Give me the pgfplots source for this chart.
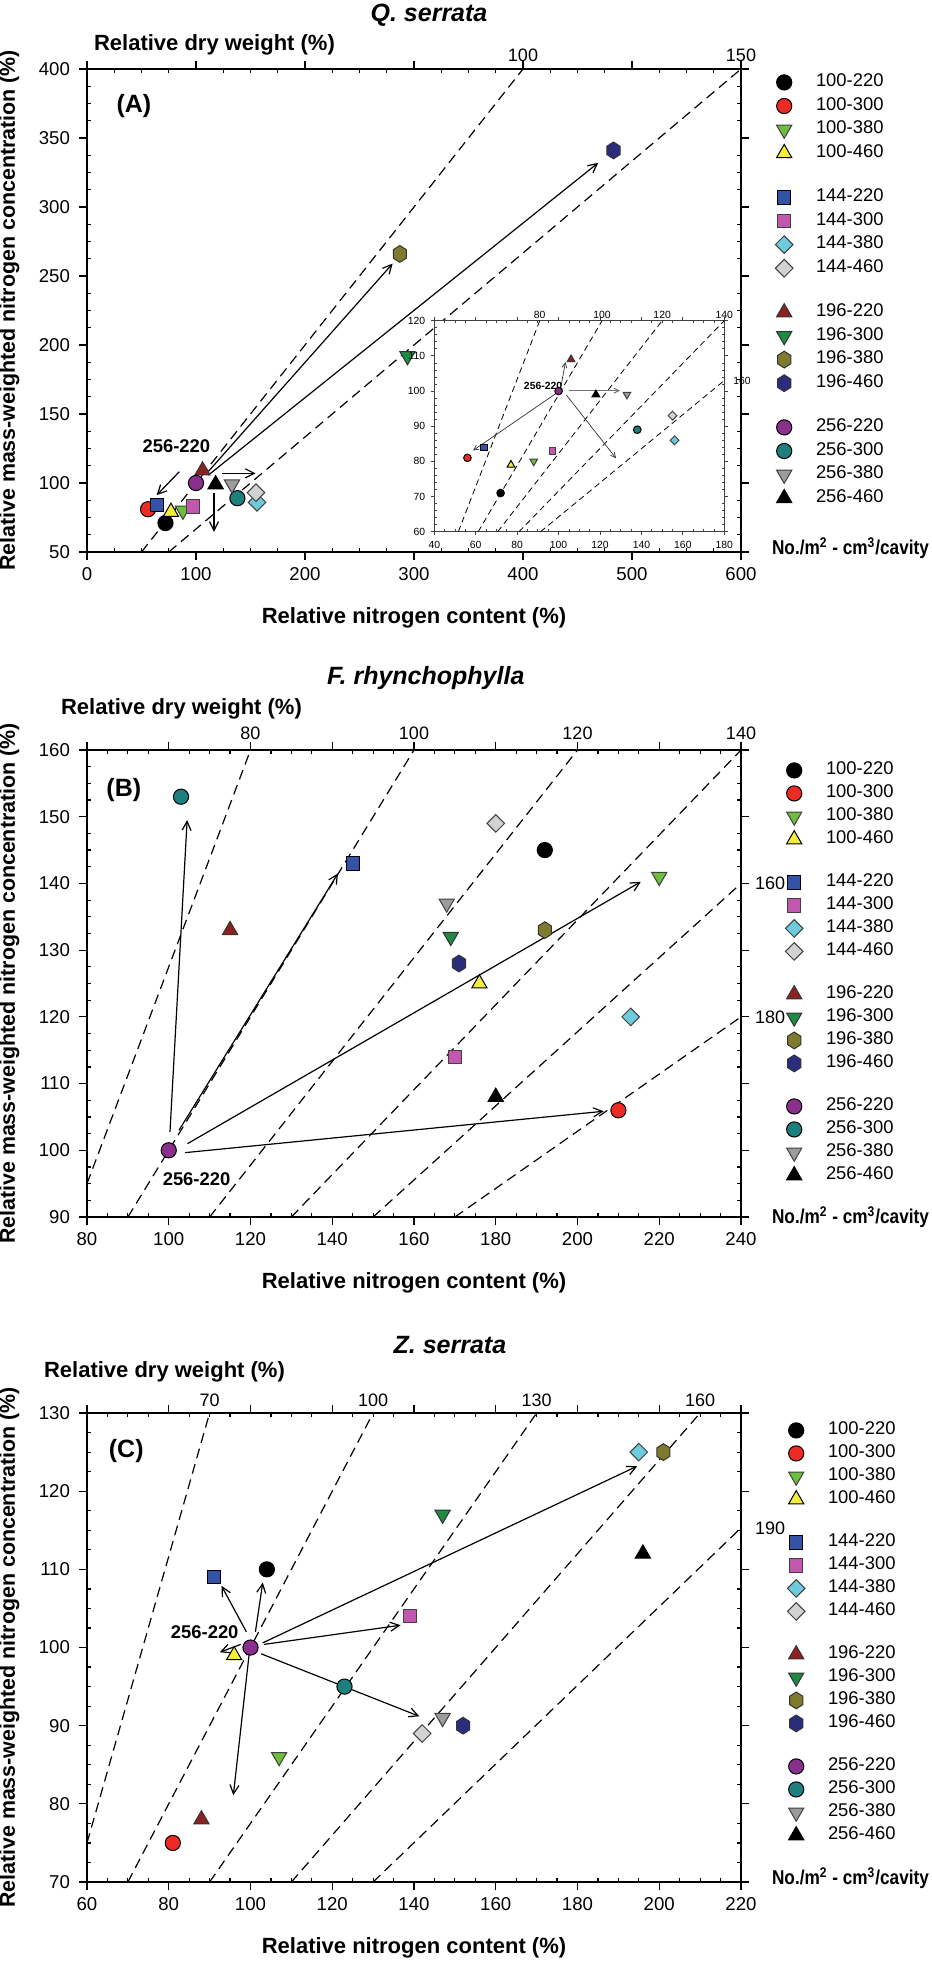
\documentclass[border=0pt]{standalone}
\usepackage{fontspec}
\setmainfont{Liberation Sans}
\newfontfamily\narrowfont{Liberation Sans}[FakeStretch=0.86]
\usepackage{pgfplots}
\pgfplotsset{compat=1.18}
\usetikzlibrary{arrows.meta}

\definecolor{cRed}{HTML}{EE2A24}
\definecolor{cLGreen}{HTML}{6CBE3C}
\definecolor{cYellow}{HTML}{F2EE3A}
\definecolor{cBlue}{HTML}{3553A6}
\definecolor{cMag}{HTML}{C257AE}
\definecolor{cLBlue}{HTML}{6ECBDC}
\definecolor{cLGrey}{HTML}{D2D2D2}
\definecolor{cDRed}{HTML}{8B2222}
\definecolor{cDGreen}{HTML}{1F8A41}
\definecolor{cOlive}{HTML}{7E7B2E}
\definecolor{cNavy}{HTML}{2B2C7C}
\definecolor{cPurple}{HTML}{8B2F8E}
\definecolor{cTeal}{HTML}{1E807E}
\definecolor{cGrey}{HTML}{9C9C9C}

\pgfdeclareplotmark{tridown}{%
  \pgfpathmoveto{\pgfqpoint{0pt}{-\pgfplotmarksize}}%
  \pgfpathlineto{\pgfqpoint{0.866\pgfplotmarksize}{0.5\pgfplotmarksize}}%
  \pgfpathlineto{\pgfqpoint{-0.866\pgfplotmarksize}{0.5\pgfplotmarksize}}%
  \pgfpathclose\pgfusepathqfillstroke}
\pgfdeclareplotmark{hexa}{%
  \pgfpathmoveto{\pgfqpoint{0pt}{\pgfplotmarksize}}%
  \pgfpathlineto{\pgfqpoint{0.78\pgfplotmarksize}{0.5\pgfplotmarksize}}%
  \pgfpathlineto{\pgfqpoint{0.78\pgfplotmarksize}{-0.5\pgfplotmarksize}}%
  \pgfpathlineto{\pgfqpoint{0pt}{-\pgfplotmarksize}}%
  \pgfpathlineto{\pgfqpoint{-0.78\pgfplotmarksize}{-0.5\pgfplotmarksize}}%
  \pgfpathlineto{\pgfqpoint{-0.78\pgfplotmarksize}{0.5\pgfplotmarksize}}%
  \pgfpathclose\pgfusepathqfillstroke}
\pgfdeclareplotmark{dia}{%
  \pgfpathmoveto{\pgfqpoint{0pt}{\pgfplotmarksize}}%
  \pgfpathlineto{\pgfqpoint{\pgfplotmarksize}{0pt}}%
  \pgfpathlineto{\pgfqpoint{0pt}{-\pgfplotmarksize}}%
  \pgfpathlineto{\pgfqpoint{-\pgfplotmarksize}{0pt}}%
  \pgfpathclose\pgfusepathqfillstroke}

\tikzset{
  toplab/.style={anchor=center, font=\fontsize{9}{10}\selectfont},
  boldlab/.style={font=\bfseries\fontsize{11}{12}\selectfont},
  unitlab/.style={anchor=west, font=\narrowfont\bfseries\fontsize{10}{11}\selectfont},
  titlelab/.style={font=\bfseries\itshape\fontsize{12.5}{14}\selectfont},
  insetlab/.style={font=\fontsize{5.2}{6}\selectfont},
}

\pgfplotsset{
  mk/.style={only marks, line width=0.5pt},
  sA/.style={mk, mark=*, mark size=3.8pt, draw=black, fill=black},
  sB/.style={mk, mark=*, mark size=3.8pt, draw=black, fill=cRed},
  sC/.style={mk, mark=tridown, mark size=4.4pt, draw=black!75, fill=cLGreen},
  sD/.style={mk, mark=triangle*, mark size=4.4pt, draw=black, fill=cYellow},
  sE/.style={mk, mark=square*, mark size=3.3pt, draw=black, fill=cBlue},
  sF/.style={mk, mark=square*, mark size=3.3pt, draw=black!75, fill=cMag},
  sG/.style={mk, mark=dia, mark size=4.4pt, draw=black!75, fill=cLBlue},
  sH/.style={mk, mark=dia, mark size=4.4pt, draw=black!75, fill=cLGrey},
  sI/.style={mk, mark=triangle*, mark size=4.4pt, draw=black!80, fill=cDRed},
  sJ/.style={mk, mark=tridown, mark size=4.4pt, draw=black!80, fill=cDGreen},
  sK/.style={mk, mark=hexa, mark size=4.2pt, draw=black!80, fill=cOlive},
  sL/.style={mk, mark=hexa, mark size=4.2pt, draw=black!80, fill=cNavy},
  sM/.style={mk, mark=*, mark size=3.8pt, draw=black, fill=cPurple},
  sN/.style={mk, mark=*, mark size=3.8pt, draw=black, fill=cTeal},
  sO/.style={mk, mark=tridown, mark size=4.4pt, draw=black!75, fill=cGrey},
  sP/.style={mk, mark=triangle*, mark size=4.4pt, draw=black, fill=black},
  dashline/.style={black, line width=0.6pt, dash pattern=on 5pt off 3pt, forget plot},
  arr/.style={black, line width=0.6pt, -{Straight Barb[length=4.5pt,width=4.5pt]}, forget plot},
  panel/.style={
    scale only axis, width=327pt, clip=false,
    axis line style={line width=1pt},
    tick style={black, line width=0.6pt},
    tick align=inside, major tick length=-4pt, minor tick length=2pt,
    tick pos=both, xticklabel pos=lower, yticklabel pos=left,
    tick label style={font=\fontsize{9.3}{10}\selectfont},
    xticklabel style={yshift=-4pt},
    yticklabel style={xshift=-5pt},
    /pgf/number format/assume math mode=true,
    scaled ticks=false,
    xlabel={Relative nitrogen content (\%)},
    ylabel={Relative mass-weighted nitrogen concentration (\%)},
    every axis x label/.style={at={(rel axis cs:0.5,0)}, anchor=center, yshift=-33pt,
      font=\bfseries\fontsize{11}{12}\selectfont},
    every axis y label/.style={at={(rel axis cs:0,0.5)}, anchor=center, rotate=90, yshift=38.75pt,
      font=\bfseries\fontsize{10.7}{12}\selectfont},
    legend cell align=left,
    legend image code/.code={\draw[##1, overlay] plot coordinates {(0pt,-1.5pt)};
      \path[draw=none, fill=none] (-4.4pt,-5pt) rectangle (4.4pt,2pt);},
    legend style={draw=none, fill=none, at={(1,1)}, anchor=north west,
      inner sep=0pt, row sep=3pt, column sep=11.5pt,
      font=\fontsize{9.2}{10}\selectfont,
      nodes={inner sep=0pt, text height=7pt, text depth=0pt, anchor=center}},
  },
}
\newcommand{\blankentry}{\addlegendimage{empty legend}\addlegendentry{\mbox{}}}
\newcommand{\unitlabel}{No./m\textsuperscript{2} - cm\textsuperscript{3}/cavity}

\begin{document}
\begin{tikzpicture}
\useasboundingbox (0,0) rectangle (465.5pt,-981.5pt);

% ================= Panel A =================
\begin{axis}[panel, at={(43.5pt,-276pt)}, anchor=south west, height=241.5pt,
  xmin=0, xmax=600, ymin=50, ymax=400,
  xtick={0,100,...,600}, ytick={50,100,...,400},
  minor x tick num=3, minor y tick num=3,
  legend style={xshift=17pt, yshift=-1.5pt, row sep=3.3pt}]
\addplot[dashline] coordinates {(50,50) (400,400)};
\addplot[dashline] coordinates {(75,50) (600,400)};
\addplot[arr] coordinates {(109.8,107) (280.4,259)};
\addplot[arr] coordinates {(111.3,105.7) (469,332)};
\addplot[arr] coordinates {(84.7,108.2) (63.9,91.2)};
\addplot[arr] coordinates {(123.5,107) (154.7,107)};
\addplot[arr] coordinates {(116.5,92.4) (116.5,64.6)};
\addplot[sA] coordinates {(72,71)}; \addlegendentry{100-220}
\addplot[sB] coordinates {(56,81)}; \addlegendentry{100-300}
\addplot[sC] coordinates {(88,80)}; \addlegendentry{100-380}
\addplot[sD] coordinates {(77,79)}; \addlegendentry{100-460}
\blankentry
\addplot[sE] coordinates {(64,84)}; \addlegendentry{144-220}
\addplot[sF] coordinates {(97,83)}; \addlegendentry{144-300}
\addplot[sG] coordinates {(156,86)}; \addlegendentry{144-380}
\addplot[sH] coordinates {(155,93)}; \addlegendentry{144-460}
\blankentry
\addplot[sI] coordinates {(106,109)}; \addlegendentry{196-220}
\addplot[sJ] coordinates {(294,192)}; \addlegendentry{196-300}
\addplot[sK] coordinates {(287,266)}; \addlegendentry{196-380}
\addplot[sL] coordinates {(483,341)}; \addlegendentry{196-460}
\blankentry
\addplot[sM] coordinates {(100,100)}; \addlegendentry{256-220}
\addplot[sN] coordinates {(138,89)}; \addlegendentry{256-300}
\addplot[sO] coordinates {(133,99)}; \addlegendentry{256-380}
\addplot[sP] coordinates {(118,99)}; \addlegendentry{256-460}
\node[font=\bfseries\fontsize{12.5}{14}\selectfont] at (axis cs:43,373) {(A)};
\node[font=\bfseries\fontsize{9.2}{10}\selectfont] at (axis cs:82,127) {256-220};
\node[titlelab, yshift=27pt] at (rel axis cs:0.523,1) {Q. serrata};
\node[boldlab, anchor=west, yshift=12pt] at (rel axis cs:0,1) {Relative dry weight (\%)};
\node[toplab, yshift=7pt] at (axis cs:400,400) {100};
\node[toplab, yshift=7pt] at (axis cs:600,400) {150};
\node[unitlab, xshift=12pt, yshift=2pt] at (rel axis cs:1,0) {\unitlabel};
\end{axis}

% ---- inset ----
\begin{axis}[scale only axis, at={(217.15pt,-265.85pt)}, anchor=south west,
  width=145pt, height=105.5pt, clip=false,
  xmin=40, xmax=180, ymin=60, ymax=120,
  xtick={40,60,...,180}, ytick={60,70,...,120},
  minor x tick num=3, minor y tick num=4,
  axis background/.style={fill=white},
  axis line style={line width=0.5pt, black!75},
  tick style={black!75, line width=0.4pt},
  tick align=inside, major tick length=-1.8pt, minor tick length=1.2pt,
  tick pos=both, xticklabel pos=lower, yticklabel pos=left,
  tick label style={font=\fontsize{5.2}{6}\selectfont},
  xticklabel style={yshift=-1pt}, yticklabel style={xshift=-1pt},
  /pgf/number format/assume math mode=true,
  every axis plot/.append style={mark options={scale=0.5}}]
\addplot[black, line width=0.4pt, dash pattern=on 3pt off 2pt] coordinates {(51.6,60) (90.9,120)};
\addplot[black, line width=0.4pt, dash pattern=on 3pt off 2pt] coordinates {(61.2,60) (121,120)};
\addplot[black, line width=0.4pt, dash pattern=on 3pt off 2pt] coordinates {(70.6,60) (150,120)};
\addplot[black, line width=0.4pt, dash pattern=on 3pt off 2pt] coordinates {(80.9,60) (180,120)};
\addplot[black, line width=0.4pt, dash pattern=on 3pt off 2pt] coordinates {(91.3,60) (180,103)};
\addplot[black!80, line width=0.35pt, -{Straight Barb[length=2.5pt,width=2.5pt]}] coordinates {(99,99.4) (58.7,83.1)};
\addplot[black!80, line width=0.35pt, -{Straight Barb[length=2.5pt,width=2.5pt]}] coordinates {(101.2,101.5) (103.3,108.2)};
\addplot[black!55, line width=0.5pt, -{Straight Barb[length=2.5pt,width=2.5pt]}] coordinates {(104.8,100.1) (129.6,100.1)};
\addplot[black!80, line width=0.35pt, -{Straight Barb[length=2.5pt,width=2.5pt]}] coordinates {(103.7,98.9) (127.7,80.9)};
\addplot[sA] coordinates {(72,71)};
\addplot[sB] coordinates {(56,81)};
\addplot[sC] coordinates {(88,80)};
\addplot[sD] coordinates {(77,79)};
\addplot[sE] coordinates {(64,84)};
\addplot[sF] coordinates {(97,83)};
\addplot[sG] coordinates {(156,86)};
\addplot[sH] coordinates {(155,93)};
\addplot[sI] coordinates {(106,109)};
\addplot[sM] coordinates {(100,100)};
\addplot[sN] coordinates {(138,89)};
\addplot[sO] coordinates {(133,99)};
\addplot[sP] coordinates {(118,99)};
\node[insetlab, font=\bfseries\fontsize{5.2}{6}\selectfont] at (axis cs:92.5,101.5) {256-220};
\node[insetlab, yshift=3pt] at (axis cs:90.9,120) {80};
\node[insetlab, yshift=3pt] at (axis cs:121,120) {100};
\node[insetlab, yshift=3pt] at (axis cs:150,120) {120};
\node[insetlab, yshift=3pt] at (axis cs:180,120) {140};
\node[insetlab, anchor=west, xshift=1pt] at (axis cs:180,103) {160};
\end{axis}

% ================= Panel B =================
\begin{axis}[panel, at={(43.5pt,-608.5pt)}, anchor=south west, height=233.5pt,
  xmin=80, xmax=240, ymin=90, ymax=160,
  xtick={80,100,...,240}, ytick={90,100,...,160},
  minor x tick num=3, minor y tick num=3,
  legend style={xshift=22pt, yshift=-5pt}]
\addplot[dashline] coordinates {(80,95) (120,160)};
\addplot[dashline] coordinates {(90,90) (160,160)};
\addplot[dashline] coordinates {(110,90) (200,160)};
\addplot[dashline] coordinates {(130,90) (240,160)};
\addplot[dashline] coordinates {(150,90) (240,140)};
\addplot[dashline] coordinates {(170,90) (240,120)};
\addplot[arr] coordinates {(100.3,102.75) (104.5,149.5)};
\addplot[arr] coordinates {(102.5,103) (141.4,141.5)};
\addplot[arr] coordinates {(104.6,101) (215.5,140.25)};
\addplot[arr] coordinates {(104,99.65) (206.4,105.85)};
\addplot[sA] coordinates {(192,145)}; \addlegendentry{100-220}
\addplot[sB] coordinates {(210,106)}; \addlegendentry{100-300}
\addplot[sC] coordinates {(220,141)}; \addlegendentry{100-380}
\addplot[sD] coordinates {(176,125)}; \addlegendentry{100-460}
\blankentry
\addplot[sE] coordinates {(145,143)}; \addlegendentry{144-220}
\addplot[sF] coordinates {(170,114)}; \addlegendentry{144-300}
\addplot[sG] coordinates {(213,120)}; \addlegendentry{144-380}
\addplot[sH] coordinates {(180,149)}; \addlegendentry{144-460}
\blankentry
\addplot[sI] coordinates {(115,133)}; \addlegendentry{196-220}
\addplot[sJ] coordinates {(169,132)}; \addlegendentry{196-300}
\addplot[sK] coordinates {(192,133)}; \addlegendentry{196-380}
\addplot[sL] coordinates {(171,128)}; \addlegendentry{196-460}
\blankentry
\addplot[sM] coordinates {(100,100)}; \addlegendentry{256-220}
\addplot[sN] coordinates {(103,153)}; \addlegendentry{256-300}
\addplot[sO] coordinates {(168,137)}; \addlegendentry{256-380}
\addplot[sP] coordinates {(180,108)}; \addlegendentry{256-460}
\node[font=\bfseries\fontsize{12.5}{14}\selectfont] at (axis cs:89,154) {(B)};
\node[font=\bfseries\fontsize{9.2}{10}\selectfont] at (axis cs:106.8,95.6) {256-220};
\node[titlelab, yshift=36pt] at (rel axis cs:0.518,1) {F. rhynchophylla};
\node[boldlab, anchor=west, xshift=-16.5pt, yshift=20.5pt] at (rel axis cs:0,1) {Relative dry weight (\%)};
\node[toplab, yshift=8.5pt] at (axis cs:120,160) {80};
\node[toplab, yshift=8.5pt] at (axis cs:160,160) {100};
\node[toplab, yshift=8.5pt] at (axis cs:200,160) {120};
\node[toplab, yshift=8.5pt] at (axis cs:240,160) {140};
\node[toplab, anchor=west, xshift=3.5pt] at (axis cs:240,140) {160};
\node[toplab, anchor=west, xshift=3.5pt] at (axis cs:240,120) {180};
\node[unitlab, xshift=12pt] at (rel axis cs:1,0) {\unitlabel};
\end{axis}

% ================= Panel C =================
\begin{axis}[panel, at={(43.5pt,-941pt)}, anchor=south west, height=234.5pt,
  xmin=60, xmax=220, ymin=70, ymax=130,
  xtick={60,80,...,220}, ytick={70,80,...,130},
  minor x tick num=3, minor y tick num=3,
  legend style={xshift=23pt, yshift=-3.5pt}]
\addplot[dashline] coordinates {(60,75) (90,130)};
\addplot[dashline] coordinates {(70,70) (130,130)};
\addplot[dashline] coordinates {(90,70) (170,130)};
\addplot[dashline] coordinates {(110,70) (210,130)};
\addplot[dashline] coordinates {(130,70) (220,115.3)};
\addplot[arr] coordinates {(99,102) (92.9,107.9)};
\addplot[arr] coordinates {(101.2,102) (103,108.3)};
\addplot[arr] coordinates {(103,100.6) (194.6,123.2)};
\addplot[arr] coordinates {(103.3,100.4) (136.7,102.85)};
\addplot[arr] coordinates {(97.6,100.4) (92.5,99.4)};
\addplot[arr] coordinates {(99.7,99.3) (95.8,81.1)};
\addplot[arr] coordinates {(102.6,99.2) (141.3,91.2)};
\addplot[sA] coordinates {(104,110)}; \addlegendentry{100-220}
\addplot[sB] coordinates {(81,75)}; \addlegendentry{100-300}
\addplot[sC] coordinates {(107,86)}; \addlegendentry{100-380}
\addplot[sD] coordinates {(96,99)}; \addlegendentry{100-460}
\blankentry
\addplot[sE] coordinates {(91,109)}; \addlegendentry{144-220}
\addplot[sF] coordinates {(139,104)}; \addlegendentry{144-300}
\addplot[sG] coordinates {(195,125)}; \addlegendentry{144-380}
\addplot[sH] coordinates {(142,89)}; \addlegendentry{144-460}
\blankentry
\addplot[sI] coordinates {(88,78)}; \addlegendentry{196-220}
\addplot[sJ] coordinates {(147,117)}; \addlegendentry{196-300}
\addplot[sK] coordinates {(201,125)}; \addlegendentry{196-380}
\addplot[sL] coordinates {(152,90)}; \addlegendentry{196-460}
\blankentry
\addplot[sM] coordinates {(100,100)}; \addlegendentry{256-220}
\addplot[sN] coordinates {(123,95)}; \addlegendentry{256-300}
\addplot[sO] coordinates {(147,91)}; \addlegendentry{256-380}
\addplot[sP] coordinates {(196,112)}; \addlegendentry{256-460}
\node[font=\bfseries\fontsize{12.5}{14}\selectfont] at (axis cs:69.6,125.1) {(C)};
\node[font=\bfseries\fontsize{9.2}{10}\selectfont] at (axis cs:88.8,102) {256-220};
\node[titlelab, yshift=34pt] at (rel axis cs:0.555,1) {Z. serrata};
\node[boldlab, anchor=west, xshift=-25pt, yshift=20.5pt] at (rel axis cs:0,1) {Relative dry weight (\%)};
\node[toplab, yshift=6.5pt] at (axis cs:90,130) {70};
\node[toplab, yshift=6.5pt] at (axis cs:130,130) {100};
\node[toplab, yshift=6.5pt] at (axis cs:170,130) {130};
\node[toplab, yshift=6.5pt] at (axis cs:210,130) {160};
\node[toplab, anchor=west, xshift=3.5pt] at (axis cs:220,115.3) {190};
\node[unitlab, xshift=12pt, yshift=2pt] at (rel axis cs:1,0) {\unitlabel};
\end{axis}
\end{tikzpicture}
\end{document}
